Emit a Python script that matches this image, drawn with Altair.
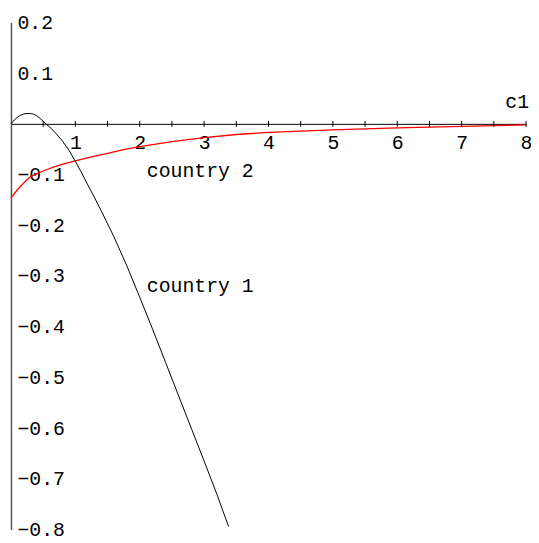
import altair as alt
import pandas as pd

# country 1 (black curve)
c1_x = [0, 0.05, 0.1, 0.15, 0.2, 0.25, 0.3, 0.35, 0.4, 0.45, 0.5, 0.55, 0.6, 0.7, 0.8,
        0.9, 1.0, 1.1, 1.2, 1.3, 1.4, 1.5, 1.6, 1.8, 2.0, 2.2, 2.4, 2.6, 2.8, 3.0, 3.2, 3.38]
c1_y = [0, 0.0075, 0.013, 0.017, 0.0195, 0.0205, 0.0205, 0.019, 0.016, 0.011, 0.005, -0.001,
        -0.006, -0.019, -0.034, -0.052, -0.074, -0.097, -0.122, -0.146, -0.171, -0.197,
        -0.223, -0.28, -0.342, -0.405, -0.47, -0.535, -0.6, -0.665, -0.731, -0.794]

# country 2 (red curve)
c2_x = [0, 0.1, 0.2, 0.31, 0.5, 0.67, 0.85, 1.0, 1.25, 1.5, 1.75, 2.0, 2.5, 3.0, 3.5,
        4.0, 4.5, 5.0, 5.5, 6.0, 6.5, 7.0, 7.5, 8.0]
c2_y = [-0.146, -0.13, -0.116, -0.1035, -0.093, -0.085, -0.078, -0.073, -0.065, -0.058,
        -0.051, -0.045, -0.035, -0.027, -0.021, -0.017, -0.0145, -0.012, -0.010, -0.008,
        -0.0065, -0.005, -0.0035, -0.002]

x_label_values = [1, 2, 3, 4, 5, 6, 7, 8]
x_tick_values = [0.5, 1, 1.5, 2, 2.5, 3, 3.5, 4, 4.5, 5, 5.5, 6, 6.5, 7, 7.5, 8]
y_label_values = [0.2, 0.1, -0.1, -0.2, -0.3, -0.4, -0.5, -0.6, -0.7, -0.8]

series_names = ["country 2", "country 1"]
series_label_x = [2.11, 2.11]
series_label_y = [-0.104, -0.331]
x_axis_name = "c1"

W, H = 520, 512
FONT = "Liberation Mono"
FS = 20

df1 = pd.DataFrame({"x": c1_x, "y": c1_y})
df2 = pd.DataFrame({"x": c2_x, "y": c2_y})
dft = pd.DataFrame({"x": x_tick_values})
dfl = pd.DataFrame({"x": series_label_x, "y": series_label_y, "t": series_names})

xs = alt.Scale(domain=[0, 8], nice=False, zero=False)
ys = alt.Scale(domain=[-0.8, 0.2], nice=False, zero=False)

x_axis = alt.Axis(values=x_label_values, orient="bottom", offset=-0.8 * H,
                  ticks=False, tickSize=0, labelPadding=9, domainColor="black",
                  domainWidth=1, labelFont=FONT, labelFontSize=FS, labelColor="black",
                  grid=False, title=None, labelFlush=False, labelOverlap=False,
                  format="d")
y_axis = alt.Axis(values=y_label_values, orient="left", ticks=False, tickSize=0,
                  labelAlign="left", labelPadding=-6, labelBaseline="middle",
                  domainColor="#555555", domainWidth=1.5, labelFont=FONT,
                  labelFontSize=FS, labelColor="black", grid=False, title=None,
                  format=".1f", labelOverlap=False, labelFlush=False)

X = lambda f: alt.X(f, scale=xs, axis=x_axis)
Y = lambda f: alt.Y(f, scale=ys, axis=y_axis)

line1 = alt.Chart(df1).mark_line(color="black", strokeWidth=1).encode(
    x=X("x:Q"), y=Y("y:Q"))
line2 = alt.Chart(df2).mark_line(color="#ff0000", strokeWidth=1.3).encode(
    x=X("x:Q"), y=Y("y:Q"))
ticks = alt.Chart(dft).mark_rule(color="black", strokeWidth=1, yOffset=-3, y2Offset=3).encode(
    x=X("x:Q"), y=alt.datum(0, scale=ys, axis=y_axis), y2=alt.datum(0))
labels = alt.Chart(dfl).mark_text(align="left", baseline="alphabetic", font=FONT,
                                  fontSize=FS, color="black").encode(
    x=X("x:Q"), y=Y("y:Q"), text="t:N")
axname = alt.Chart(pd.DataFrame({"t": [x_axis_name]})).mark_text(
    align="right", baseline="alphabetic", font=FONT, fontSize=FS, color="black",
    dx=3, dy=-16).encode(
    x=alt.datum(8, scale=xs, axis=x_axis), y=alt.datum(0, scale=ys, axis=y_axis), text="t:N")

chart = alt.layer(line2, line1, ticks, labels, axname).properties(
    width=W, height=H, autosize="none",
    padding={"left": 3, "top": 12, "right": 5, "bottom": 11},
    background="white",
).configure_view(strokeWidth=0)

chart.save("out.html", embed_options={"renderer": "svg", "actions": False})
